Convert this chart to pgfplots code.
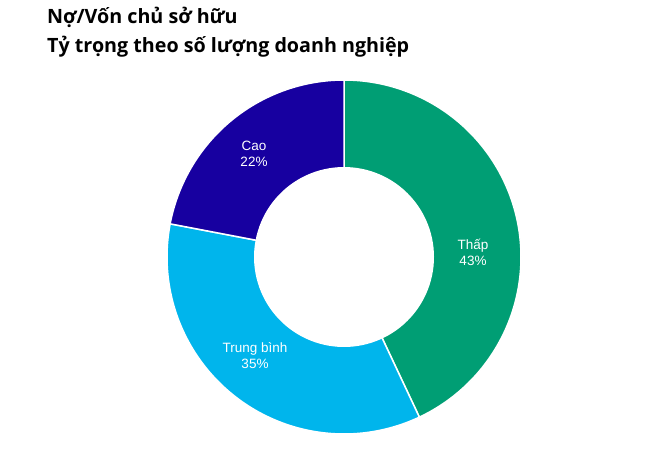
\documentclass[border=0pt]{standalone}
\usepackage{pgfplots}
\pgfplotsset{compat=1.18}
\usepackage{pgfplotstable}
\usepackage{fontspec}
\setmainfont{Liberation Sans}
\newfontfamily\titlefont{Open Sans}

\definecolor{thap}{RGB}{0,158,116}
\definecolor{trungbinh}{RGB}{0,181,236}
\definecolor{cao}{RGB}{23,0,160}

% share of companies (%), clockwise from the top
\pgfplotstableread{
idx value
0 43
1 35
2 22
}\shares

\begin{document}
\begin{tikzpicture}
  \pgfplotstablegetelem{0}{value}\of\shares \let\vA\pgfplotsretval
  \pgfplotstablegetelem{1}{value}\of\shares \let\vB\pgfplotsretval
  \pgfplotstablegetelem{2}{value}\of\shares \let\vC\pgfplotsretval
  \pgfmathsetmacro{\aA}{90-3.6*\vA}
  \pgfmathsetmacro{\aB}{\aA-3.6*\vB}
  \pgfmathsetmacro{\aC}{\aB-3.6*\vC}
  \begin{axis}[
      scale only axis,
      width=647pt, height=451pt,
      xmin=0, xmax=647, ymin=0, ymax=451,
      enlargelimits=false,
      hide axis,
      clip=false,
      samples=120,
    ]
    \coordinate (sw) at (rel axis cs:0,0);
    \coordinate (ne) at (rel axis cs:1,1);

    % outer sectors
    \addplot[fill=thap, draw=white, line width=1.5pt, domain=90:\aA]
      ({344+177*cos(x)},{194+177*sin(x)}) -- (axis cs:344,194) -- cycle;
    \addplot[fill=trungbinh, draw=white, line width=1.5pt, domain=\aA:\aB]
      ({344+177*cos(x)},{194+177*sin(x)}) -- (axis cs:344,194) -- cycle;
    \addplot[fill=cao, draw=white, line width=1.5pt, domain=\aB:\aC]
      ({344+177*cos(x)},{194+177*sin(x)}) -- (axis cs:344,194) -- cycle;
    % hole
    \addplot[fill=white, draw=none, domain=0:360]
      ({344+90*cos(x)},{194+90*sin(x)}) -- cycle;

    \node[white, align=center, font=\fontsize{13.5}{16}\selectfont]
      at (axis cs:473,199) {Thấp\\\vA\%};
    \node[white, align=center, font=\fontsize{13.5}{16}\selectfont]
      at (axis cs:255,95) {Trung bình\\\vB\%};
    \node[white, align=center, font=\fontsize{13.5}{16}\selectfont]
      at (axis cs:254,297) {Cao\\\vC\%};

    \node[anchor=base west, inner sep=0pt, font=\titlefont\bfseries\fontsize{19.7}{24}\selectfont]
      at (axis cs:47,427) {Nợ/Vốn chủ sở hữu};
    \node[anchor=base west, inner sep=0pt, font=\titlefont\bfseries\fontsize{19.7}{24}\selectfont]
      at (axis cs:47,399) {Tỷ trọng theo số lượng doanh nghiệp};
  \end{axis}
  \pgfresetboundingbox
  \path (sw) rectangle (ne);
\end{tikzpicture}
\end{document}
